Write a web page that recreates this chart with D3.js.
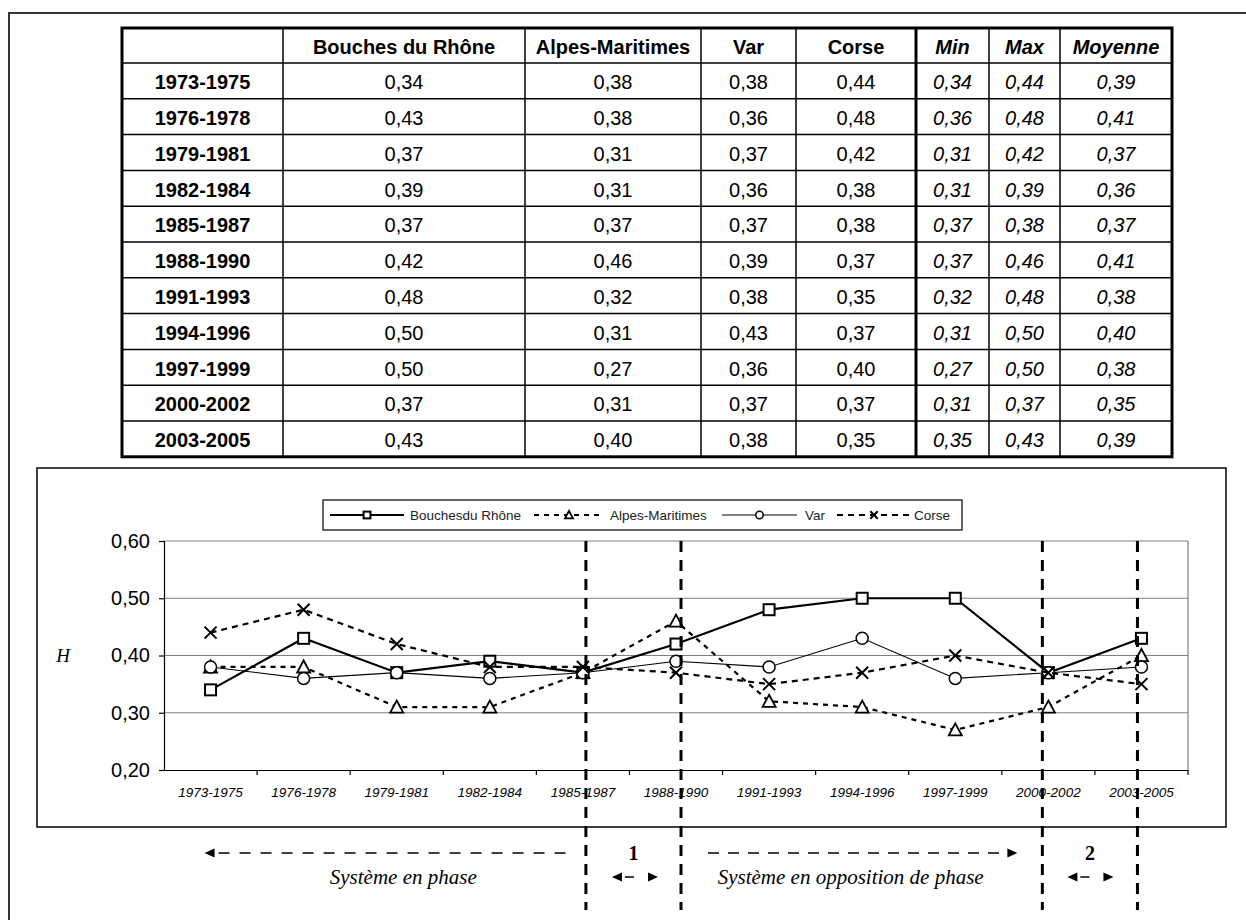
<!DOCTYPE html>
<html><head><meta charset="utf-8">
<script src="https://cdn.jsdelivr.net/npm/d3@7"></script>
<style>body{margin:0;background:#fff}svg{display:block}</style>
</head><body>
<svg id="c" width="1246" height="920"></svg>
<script>
// ---------- data ----------
const periods = ["1973-1975","1976-1978","1979-1981","1982-1984","1985-1987","1988-1990","1991-1993","1994-1996","1997-1999","2000-2002","2003-2005"];
const bouches = [0.34,0.43,0.37,0.39,0.37,0.42,0.48,0.50,0.50,0.37,0.43];
const alpes   = [0.38,0.38,0.31,0.31,0.37,0.46,0.32,0.31,0.27,0.31,0.40];
const varVals = [0.38,0.36,0.37,0.36,0.37,0.39,0.38,0.43,0.36,0.37,0.38];
const corse   = [0.44,0.48,0.42,0.38,0.38,0.37,0.35,0.37,0.40,0.37,0.35];
const minVals = [0.34,0.36,0.31,0.31,0.37,0.37,0.32,0.31,0.27,0.31,0.35];
const maxVals = [0.44,0.48,0.42,0.39,0.38,0.46,0.48,0.50,0.50,0.37,0.43];
const moyVals = [0.39,0.41,0.37,0.36,0.37,0.41,0.38,0.40,0.38,0.35,0.39];
const tableHeaders = ["","Bouches du Rhône","Alpes-Maritimes","Var","Corse","Min","Max","Moyenne"];
const seriesNames = ["Bouchesdu Rhône","Alpes-Maritimes","Var","Corse"];
const yTicks = [0.20,0.30,0.40,0.50,0.60];
const yTitle = "H";
const phaseLabels = ["Système en phase","Système en opposition de phase"];
const transitionLabels = ["1","2"];
const transitionPeriods = ["1985-1987","1988-1990","2000-2002","2003-2005"];

// ---------- helpers ----------
const svg = d3.select("#c");
const SANS = "'Liberation Sans', Arial, sans-serif";
const SERIF = "'Liberation Serif', 'Times New Roman', serif";
const fmt = v => d3.format(".2f")(v).replace(".", ",");

// outer frame
svg.append("rect").attr("x",9).attr("y",13).attr("width",1300).attr("height",1000)
  .attr("fill","none").attr("stroke","#333").attr("stroke-width",2);

// ---------- table ----------
const colEdges = [122,283,525,701,796,916,989,1060,1172];
const tTop = 28, headH = 35, rowH = 35.8;
const tBottom = tTop + headH + rowH*periods.length;
const tbl = svg.append("g").attr("font-family",SANS).attr("font-size",20).attr("fill","#000");
tableHeaders.forEach((h,j)=>{
  tbl.append("text").attr("x",(colEdges[j]+colEdges[j+1])/2).attr("y",tTop+headH/2+1)
    .attr("dy","0.36em").attr("text-anchor","middle").attr("font-weight","bold")
    .attr("font-style", j>=5 ? "italic" : "normal").text(h);
});
const rows = periods.map((p,i)=>[p,bouches[i],alpes[i],varVals[i],corse[i],minVals[i],maxVals[i],moyVals[i]]);
rows.forEach((r,i)=>{
  const yc = tTop+headH+rowH*i+rowH/2+1;
  r.forEach((v,j)=>{
    tbl.append("text").attr("x",(colEdges[j]+colEdges[j+1])/2).attr("y",yc).attr("dy","0.36em")
      .attr("text-anchor","middle")
      .attr("font-weight", j===0 ? "bold" : "normal")
      .attr("font-style", j>=5 ? "italic" : "normal")
      .text(j===0 ? v : fmt(v));
  });
});
for(let i=0;i<periods.length;i++){
  const yy = tTop+headH+rowH*i;
  tbl.append("line").attr("x1",colEdges[0]).attr("x2",colEdges[8]).attr("y1",yy).attr("y2",yy)
    .attr("stroke","#000").attr("stroke-width",1.5);
}
colEdges.slice(1,-1).forEach((cx,j)=>{
  tbl.append("line").attr("x1",cx).attr("x2",cx).attr("y1",tTop).attr("y2",tBottom)
    .attr("stroke","#000").attr("stroke-width", j===4 ? 3 : 1.5);
});
tbl.append("rect").attr("x",colEdges[0]).attr("y",tTop).attr("width",colEdges[8]-colEdges[0])
  .attr("height",tBottom-tTop).attr("fill","none").attr("stroke","#000").attr("stroke-width",3);

// ---------- chart frame ----------
svg.append("rect").attr("x",37).attr("y",468).attr("width",1189).attr("height",359)
  .attr("fill","none").attr("stroke","#000").attr("stroke-width",1.5);

const x = d3.scaleBand().domain(periods).range([164,1188]);
const bw = x.bandwidth();
const cx = p => x(p) + bw/2;
const y = d3.scaleLinear().domain([0.2,0.6]).range([770,541]);

const plot = svg.append("g");
// gridlines
plot.selectAll("line.grid").data(yTicks.filter(t=>t>0.2)).join("line")
  .attr("x1",x.range()[0]).attr("x2",x.range()[1]).attr("y1",d=>y(d)).attr("y2",d=>y(d))
  .attr("stroke","#808080").attr("stroke-width",1.2);
plot.append("line").attr("x1",x.range()[1]).attr("x2",x.range()[1]).attr("y1",y(0.6)).attr("y2",y(0.2))
  .attr("stroke","#808080").attr("stroke-width",1.2);

// y axis
const yAx = plot.append("g").attr("transform",`translate(${x.range()[0]},0)`)
  .call(d3.axisLeft(y).tickValues(yTicks).tickFormat(fmt).tickSize(5).tickPadding(9));
yAx.select(".domain").attr("stroke","#000").attr("stroke-width",1.2);
yAx.selectAll(".tick line").attr("stroke","#000").attr("stroke-width",1.2);
yAx.selectAll("text").attr("font-family",SANS).attr("font-size",20).attr("fill","#000");

// x axis
const xAx = plot.append("g").attr("transform",`translate(0,${y(0.2)})`)
  .call(d3.axisBottom(x).tickSize(0).tickPadding(17));
xAx.select(".domain").attr("stroke","#000").attr("stroke-width",1.2);
xAx.selectAll("text").attr("font-family",SANS).attr("font-size",13.5).attr("font-style","italic").attr("fill","#000");
plot.selectAll("line.xt").data(periods.slice(1).concat(["__end"])).join("line")
  .attr("x1",d=> d==="__end" ? x.range()[1] : x(d)).attr("x2",d=> d==="__end" ? x.range()[1] : x(d))
  .attr("y1",y(0.2)).attr("y2",y(0.2)+5).attr("stroke","#000").attr("stroke-width",1.2);

// y title
svg.append("text").attr("x",63).attr("y",y(0.4)).attr("dy","0.35em").attr("text-anchor","middle")
  .attr("font-family",SERIF).attr("font-style","italic").attr("font-size",19).text(yTitle);

// ---------- series ----------
const series = [
  {name:seriesNames[0], values:bouches, dash:null, width:2.2, marker:"square"},
  {name:seriesNames[1], values:alpes,   dash:"5,5", width:2.2, marker:"triangle"},
  {name:seriesNames[2], values:varVals, dash:null, width:1.1, marker:"circle"},
  {name:seriesNames[3], values:corse,   dash:"6,5", width:2.2, marker:"x"}
];
function drawMarker(g, type, px, py, sc){
  sc = sc || 1;
  if(type==="square"){
    g.append("rect").attr("x",px-5.5*sc).attr("y",py-5.5*sc).attr("width",11*sc).attr("height",11*sc)
      .attr("fill","#fff").attr("stroke","#000").attr("stroke-width",2);
  } else if(type==="triangle"){
    const s=6.5*sc;
    g.append("path").attr("d",`M${px},${py-s}L${px+s},${py+s*0.85}L${px-s},${py+s*0.85}Z`)
      .attr("fill","#fff").attr("stroke","#000").attr("stroke-width",1.8);
  } else if(type==="circle"){
    g.append("circle").attr("cx",px).attr("cy",py).attr("r",6*sc)
      .attr("fill","#fff").attr("stroke","#000").attr("stroke-width",1.5);
  } else {
    const s=6*sc;
    g.append("path").attr("d",`M${px-s},${py-s}L${px+s},${py+s}M${px-s},${py+s}L${px+s},${py-s}`)
      .attr("fill","none").attr("stroke","#000").attr("stroke-width",2);
  }
}
const line = d3.line().x((d,i)=>cx(periods[i])).y(d=>y(d));
series.forEach(s=>{
  const g = plot.append("g");
  g.append("path").attr("d",line(s.values)).attr("fill","none").attr("stroke","#000")
    .attr("stroke-width",s.width).attr("stroke-dasharray",s.dash);
  s.values.forEach((v,i)=>drawMarker(g,s.marker,cx(periods[i]),y(v)));
});

// ---------- legend ----------
const lg = svg.append("g").attr("font-family",SANS).attr("font-size",13.5).attr("fill","#222");
lg.append("rect").attr("x",323).attr("y",500).attr("width",639).attr("height",30)
  .attr("fill","#fff").attr("stroke","#000").attr("stroke-width",1.2);
const legendLayout = [[330,404,410],[534,604,610],[722,797,805],[837,911,914]];
series.forEach((s,k)=>{
  const [a,b,t] = legendLayout[k];
  const ly = 515;
  lg.append("line").attr("x1",a).attr("x2",b).attr("y1",ly).attr("y2",ly).attr("stroke","#000")
    .attr("stroke-width",s.width).attr("stroke-dasharray",s.dash);
  drawMarker(lg,s.marker,(a+b)/2,ly,0.62);
  lg.append("text").attr("x",t).attr("y",ly).attr("dy","0.35em").text(s.name);
});

// ---------- phase annotations ----------
const vOff = [3,5,-6,-4];
const vx = transitionPeriods.map((p,i)=>cx(p)+vOff[i]);
const ann = svg.append("g");
vx.forEach(xx=>{
  ann.append("line").attr("x1",xx).attr("x2",xx).attr("y1",y(0.6)).attr("y2",910)
    .attr("stroke","#000").attr("stroke-width",3).attr("stroke-dasharray","11,8");
});
function arrowHead(px,py,dir){
  ann.append("path").attr("d",`M${px},${py}L${px-dir*10},${py-4.5}L${px-dir*10},${py+4.5}Z`).attr("fill","#000");
}
function dashedArrow(x0,x1,yy,headLeft,headRight,dash){
  ann.append("line").attr("x1",x0+(headLeft?8:0)).attr("x2",x1-(headRight?8:0)).attr("y1",yy).attr("y2",yy)
    .attr("stroke","#000").attr("stroke-width",1.5).attr("stroke-dasharray",dash);
  if(headLeft) arrowHead(x0,yy,-1);
  if(headRight) arrowHead(x1,yy,1);
}
dashedArrow(cx(periods[0])-6, vx[0]-15, 853, true, false, "0,6,11,4");
dashedArrow(vx[1]+27, vx[2]-25, 853, false, true, "11,9");
dashedArrow(vx[0]+26, vx[1]-23, 877, true, true, "0,5,9,20");
dashedArrow(vx[2]+25, vx[3]-24, 877, true, true, "0,5,9,20");
const tg = ann.append("g").attr("font-family",SERIF);
tg.append("text").attr("x",(cx(periods[0])+vx[0])/2+5).attr("y",877).attr("dy","0.35em")
  .attr("text-anchor","middle").attr("font-style","italic").attr("font-size",21).text(phaseLabels[0]);
tg.append("text").attr("x",(vx[1]+vx[2])/2-11).attr("y",877).attr("dy","0.35em")
  .attr("text-anchor","middle").attr("font-style","italic").attr("font-size",21).text(phaseLabels[1]);
tg.append("text").attr("x",(vx[0]+vx[1])/2).attr("y",853).attr("dy","0.35em")
  .attr("text-anchor","middle").attr("font-weight","bold").attr("font-size",20).text(transitionLabels[0]);
tg.append("text").attr("x",(vx[2]+vx[3])/2).attr("y",853).attr("dy","0.35em")
  .attr("text-anchor","middle").attr("font-weight","bold").attr("font-size",20).text(transitionLabels[1]);
</script>
</body></html>
